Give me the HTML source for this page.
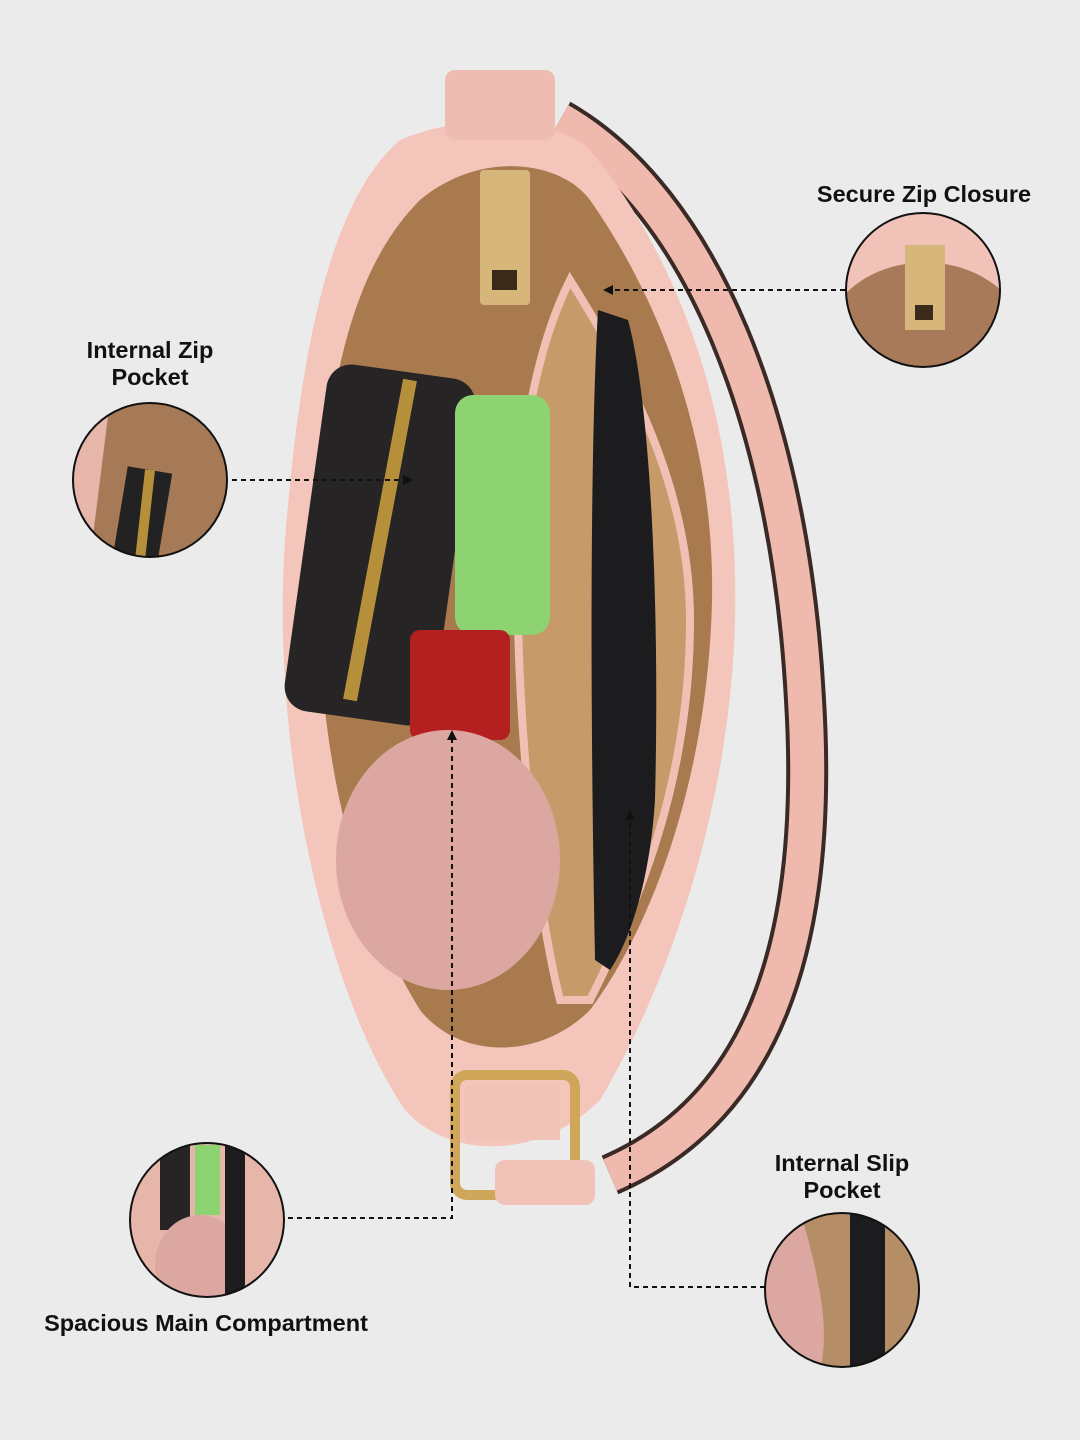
<!DOCTYPE html>
<html><head><meta charset="utf-8"><style>
html,body{margin:0;padding:0;background:#ebebeb;}
svg{display:block}
text{font-family:"Liberation Sans",sans-serif;font-weight:bold;font-size:23.5px;fill:#111;text-anchor:middle}
</style></head><body>
<svg width="1080" height="1440" viewBox="0 0 1080 1440">
<defs>
<clipPath id="c1"><circle cx="923" cy="290" r="77"/></clipPath>
<clipPath id="c2"><circle cx="150" cy="480" r="77"/></clipPath>
<clipPath id="c3"><circle cx="207" cy="1220" r="77"/></clipPath>
<clipPath id="c4"><circle cx="842" cy="1290" r="77"/></clipPath>
</defs>
<rect width="1080" height="1440" fill="#ebebeb"/>
<!-- strap -->
<path d="M560,120 C700,200 790,420 805,700 C820,950 760,1110 610,1175" fill="none" stroke="#3a2a25" stroke-width="42"/>
<path d="M560,120 C700,200 790,420 805,700 C820,950 760,1110 610,1175" fill="none" stroke="#efb9ae" stroke-width="34"/>
<!-- bag outer -->
<path d="M400,140 C470,110 560,120 590,150 C680,260 740,420 735,620 C730,820 660,1000 600,1100 C540,1160 450,1160 405,1110 C330,1000 270,760 285,540 C300,350 330,200 400,140 Z" fill="#f4c5bb"/>
<path d="M420,200 C480,150 560,160 590,200 C660,300 715,440 712,600 C708,780 650,930 590,1010 C540,1060 460,1060 420,1010 C340,880 310,700 320,520 C330,360 360,260 420,200 Z" fill="#a87a4e"/>
<path d="M570,280 C620,360 690,480 690,620 C690,780 640,900 590,1000 L560,1000 C530,880 510,650 520,480 C530,380 550,320 570,280 Z" fill="#c79a6a" stroke="#f0c0b5" stroke-width="8"/>
<path d="M598,310 L628,320 C650,400 660,600 655,800 C650,880 630,940 610,970 L595,960 C590,700 590,450 598,310 Z" fill="#1c1c1e"/>
<rect x="305" y="370" width="150" height="350" rx="25" fill="#262424" transform="rotate(8 380 545)"/>
<path d="M410,380 L350,700" stroke="#b58f3a" stroke-width="14"/>
<rect x="455" y="395" width="95" height="240" rx="18" fill="#8ed372"/>
<rect x="410" y="630" width="100" height="110" rx="10" fill="#b3201f"/>
<ellipse cx="448" cy="860" rx="112" ry="130" fill="#dca7a1"/>
<rect x="480" y="170" width="50" height="135" rx="4" fill="#d6b67a"/>
<rect x="492" y="270" width="25" height="20" fill="#3a2a1a"/>
<rect x="445" y="70" width="110" height="70" rx="10" fill="#efbcb2"/>
<rect x="455" y="1075" width="120" height="120" rx="12" fill="none" stroke="#cfa65a" stroke-width="10"/>
<rect x="465" y="1085" width="95" height="55" fill="#f0c2b8"/>
<rect x="495" y="1160" width="100" height="45" rx="10" fill="#f0c2b8"/>

<!-- insets -->
<g clip-path="url(#c1)">
<rect x="840" y="200" width="170" height="180" fill="#a87a5a"/>
<path d="M840,200 H1010 V300 C970,250 880,250 840,300 Z" fill="#f0c2b8"/>
<rect x="905" y="245" width="40" height="85" fill="#d6b67a"/>
<rect x="915" y="305" width="18" height="15" fill="#3a2a1a"/>
</g>
<g clip-path="url(#c2)">
<rect x="70" y="400" width="160" height="160" fill="#a67a56"/>
<path d="M70,400 L110,400 L90,560 L70,560Z" fill="#e6b6ab"/>
<path d="M150,470 L135,560" stroke="#222" stroke-width="45"/>
<path d="M150,470 L140,560" stroke="#b58f3a" stroke-width="10"/>
</g>
<g clip-path="url(#c3)">
<rect x="128" y="1140" width="160" height="160" fill="#e6b6ab"/>
<rect x="160" y="1140" width="30" height="90" fill="#262424"/>
<rect x="195" y="1145" width="25" height="70" fill="#8ed372"/>
<ellipse cx="200" cy="1265" rx="45" ry="50" fill="#dca7a1"/>
<rect x="225" y="1140" width="20" height="160" fill="#1c1c1e"/>
</g>
<g clip-path="url(#c4)">
<rect x="763" y="1210" width="160" height="160" fill="#b58e68"/>
<path d="M763,1210 L800,1210 C820,1280 830,1330 820,1370 L763,1370Z" fill="#dca7a1"/>
<rect x="850" y="1210" width="35" height="160" fill="#1c1c1e"/>
<path d="M890,1370 L923,1300 L923,1370Z" fill="#e6b6ab"/>
</g>
<g stroke="#111" stroke-width="2" fill="none">
<circle cx="923" cy="290" r="77"/>
<circle cx="150" cy="480" r="77"/>
<circle cx="207" cy="1220" r="77"/>
<circle cx="842" cy="1290" r="77"/>
</g>

<g stroke="#111" stroke-width="2" stroke-dasharray="5,4" fill="none">
<path d="M232,480 H405"/>
<path d="M845,290 H612"/>
<path d="M288,1218 H452 V740"/>
<path d="M765,1287 H630 V820"/>
</g>
<g fill="#111">
<path d="M413,480 l-10,-5 v10 z"/>
<path d="M603,290 l10,-5 v10 z"/>
<path d="M452,730 l-5,10 h10 z"/>
<path d="M630,810 l-5,10 h10 z"/>
</g>

<text x="924" y="202">Secure Zip Closure</text>
<text x="150" y="358">Internal Zip</text>
<text x="150" y="385">Pocket</text>
<text x="842" y="1171">Internal Slip</text>
<text x="842" y="1198">Pocket</text>
<text x="206" y="1331">Spacious Main Compartment</text>
</svg>
</body></html>
